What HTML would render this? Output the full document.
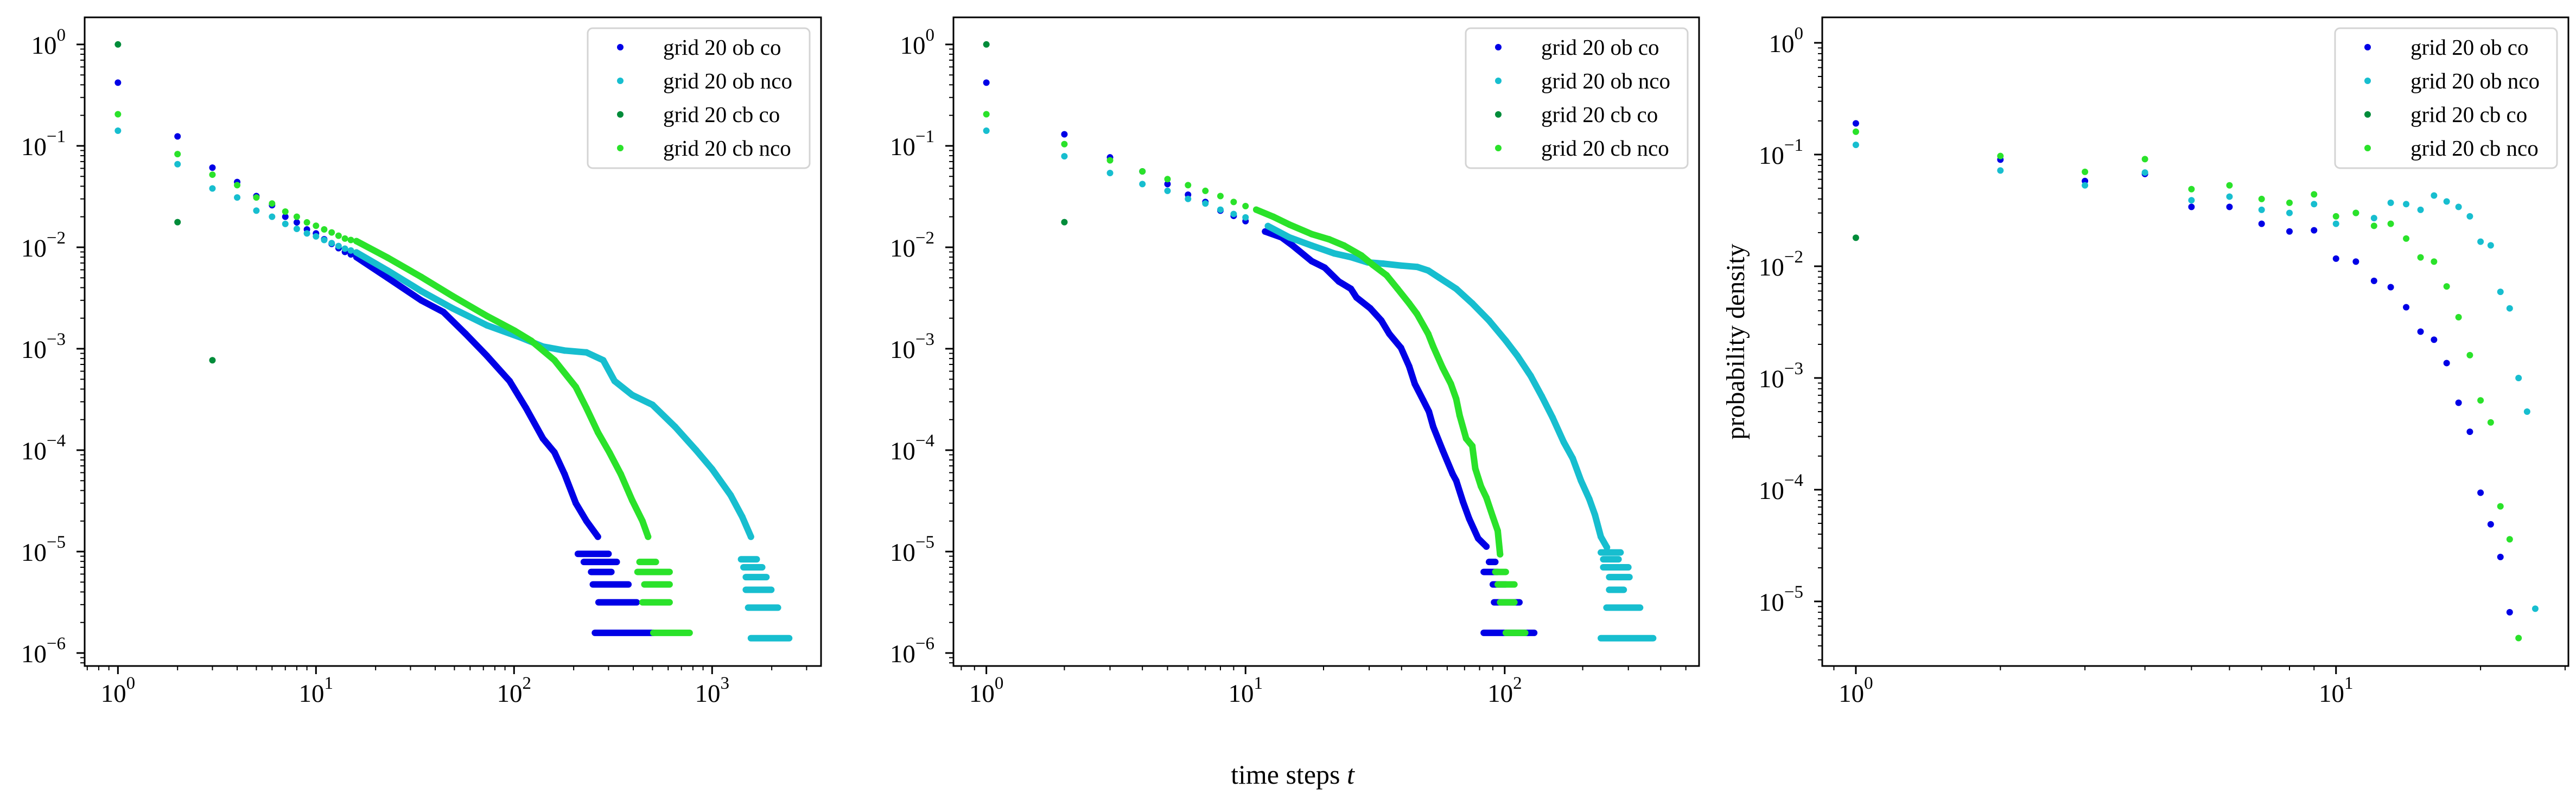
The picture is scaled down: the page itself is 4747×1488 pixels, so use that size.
<!DOCTYPE html>
<html><head><meta charset="utf-8">
<style>
html,body{margin:0;padding:0;background:#fff;}
svg{display:block;font-family:"Liberation Serif","DejaVu Serif",serif;}
</style></head>
<body>
<svg id="chart" width="4747" height="1488" viewBox="0 0 4747 1488" xmlns="http://www.w3.org/2000/svg">
<rect x="0" y="0" width="4747" height="1488" fill="#fff"/>
<text x="2382" y="1445" font-size="50" text-anchor="middle">time steps <tspan font-style="italic">t</tspan></text>
<text transform="translate(3214,630) rotate(-90)" font-size="48" text-anchor="middle">probability density</text>
</svg>
<script>
// ---------- data ----------
const seriesNames = ["grid 20 ob co","grid 20 ob nco","grid 20 cb co","grid 20 cb nco"];
const seriesColors = ["#0000e6","#17becf","#008c3a","#2ae22a"];

// Panel 1: discrete points [t, p]
const p1BlueDiscrete = [[1,0.42],[2,0.124],[3,0.061],[4,0.044],[5,0.032],[6,0.026],[7,0.020],[8,0.0176],[9,0.0150],[10,0.0137],[11,0.012],[12,0.0108],[13,0.0098],[14,0.0090],[15,0.0085]];
const p1BlueDense = [[16,0.0080],[23,0.0050],[34,0.0030],[44,0.0023],[57,0.0014],[73,0.00085],[95,0.00048],[115,0.00026],[140,0.00013],[160,0.000095],[180,0.000058],[205,0.00003],[232,0.00002],[265,0.000014]];
const p1BlueRows = [[1.58e-6,256,505],[3.16e-6,267,416],[4.74e-6,250,378],[6.3e-6,245,310],[7.9e-6,225,330],[9.5e-6,210,300]];
const p1CyanDiscrete = [[1,0.141],[2,0.066],[3,0.038],[4,0.031],[5,0.023],[6,0.020],[7,0.017],[8,0.0152],[9,0.0137],[10,0.0128],[11,0.0118],[12,0.011],[13,0.0103],[14,0.0097],[15,0.0093]];
const p1CyanDense = [[16,0.0089],[23,0.0059],[34,0.0037],[49,0.0025],[73,0.0017],[107,0.0013],[140,0.00105],[180,0.00096],[232,0.00092],[282,0.00077],[322,0.00048],[395,0.00035],[500,0.00028],[650,0.00017],[830,0.0001],[1000,0.000065],[1240,0.000036],[1420,0.000022],[1570,0.000014]];
const p1CyanRows = [[1.4e-6,1570,2450],[2.8e-6,1520,2150],[4.2e-6,1480,1990],[5.6e-6,1480,1880],[7.0e-6,1440,1790],[8.4e-6,1400,1680]];
const p1DarkDiscrete = [[1,1.0],[2,0.0177],[3,0.00077]];
const p1GreenDiscrete = [[1,0.205],[2,0.083],[3,0.052],[4,0.041],[5,0.031],[6,0.027],[7,0.0225],[8,0.020],[9,0.0176],[10,0.0163],[11,0.015],[12,0.014],[13,0.013],[14,0.0122],[15,0.0118]];
const p1GreenDense = [[16,0.0115],[23,0.0079],[34,0.0051],[49,0.0033],[73,0.0021],[101,0.0015],[122,0.0012],[160,0.00077],[205,0.00042],[232,0.00026],[265,0.00015],[303,0.000095],[346,0.000058],[395,0.000032],[445,0.00002],[475,0.000014]];
const p1GreenRows = [[1.58e-6,505,770],[3.16e-6,445,610],[4.74e-6,455,610],[6.3e-6,420,610],[7.9e-6,430,520]];

// Panel 2
const p2BlueDiscrete = [[1,0.42],[2,0.13],[3,0.077],[4,0.056],[5,0.042],[6,0.033],[7,0.028],[8,0.023],[9,0.0204],[10,0.0181]];
const p2BlueDense = [[11.9,0.0143],[13.8,0.0125],[15.2,0.0104],[18,0.0073],[20.2,0.0063],[22.9,0.0046],[25.5,0.0039],[26.8,0.0032],[30.3,0.0025],[33.4,0.0019],[35.9,0.0014],[39.8,0.00102],[42.8,0.00067],[45,0.00045],[48.5,0.00031],[51,0.00024],[53,0.00017],[57.6,0.0001],[63,0.000058],[65,0.00005],[69,0.000031],[73,0.000021],[79,0.0000135],[85,0.0000112]];
const p2BlueRows = [[1.58e-6,83,130],[3.16e-6,91,114],[4.74e-6,90,101],[6.3e-6,83,94],[7.9e-6,87,92]];
const p2CyanDiscrete = [[1,0.141],[2,0.079],[3,0.054],[4,0.042],[5,0.036],[6,0.030],[7,0.027],[8,0.0235],[9,0.0213],[10,0.0197]];
const p2CyanDense = [[12.2,0.0162],[14.8,0.0125],[18,0.0104],[22,0.0087],[25.5,0.0080],[29.6,0.0071],[34,0.0069],[39.8,0.0066],[46,0.0064],[50.7,0.0059],[56,0.005],[65,0.0039],[75,0.0028],[87,0.0019],[101,0.0012],[112,0.00085],[126,0.00054],[139,0.00034],[153,0.00021],[169,0.00012],[183,0.000083],[197,0.00005],[212,0.000033],[223,0.000023],[235,0.000014],[248,0.000011]];
const p2CyanRows = [[1.4e-6,235,374],[2.8e-6,247,333],[4.2e-6,253,288],[5.6e-6,253,303],[7.0e-6,240,300],[8.4e-6,240,275],[9.8e-6,235,280]];
const p2DarkDiscrete = [[1,1.0],[2,0.0177]];
const p2GreenDiscrete = [[1,0.205],[2,0.104],[3,0.072],[4,0.056],[5,0.047],[6,0.041],[7,0.036],[8,0.032],[9,0.028],[10,0.0255]];
const p2GreenDense = [[11,0.0235],[12.8,0.020],[14.8,0.0167],[18,0.0135],[21,0.012],[24,0.0104],[28,0.0083],[31,0.0067],[35,0.0053],[38.6,0.0039],[42.8,0.0028],[45.9,0.0022],[50.7,0.0014],[53,0.00105],[57.6,0.00065],[62,0.00045],[65,0.00032],[67,0.00022],[71,0.00013],[75,0.00011],[77,0.000066],[81,0.000044],[85,0.000034],[90,0.000022],[94,0.000016],[96,0.0000094]];
const p2GreenRows = [[1.58e-6,101,120],[3.16e-6,96,109],[4.74e-6,94,109],[6.3e-6,92,101]];

// Panel 3 (t = 1,2,3,...)
const p3BlueValues = [0.19,0.09,0.058,0.067,0.034,0.034,0.024,0.0205,0.021,0.0117,0.011,0.0074,0.0065,0.0043,0.0026,0.0022,0.00136,0.0006,0.00033,0.000094,0.000049,0.000025,0.000008];
const p3CyanValues = [0.122,0.072,0.053,0.069,0.039,0.042,0.032,0.030,0.036,0.024,0.030,0.027,0.037,0.036,0.032,0.043,0.038,0.034,0.028,0.0166,0.0154,0.0059,0.0042,0.001,0.0005,0.0000086];
const p3DarkValues = [0.018];
const p3GreenValues = [0.16,0.097,0.07,0.091,0.049,0.053,0.040,0.037,0.044,0.028,0.030,0.023,0.024,0.0177,0.012,0.011,0.0066,0.0035,0.0016,0.00063,0.0004,0.000071,0.000036,0.0000047];

const xTickExp1 = [0,1,2,3];
const xTickExp2 = [0,1,2];
const xTickExp3 = [0,1];
const yTickExp12 = [0,-1,-2,-3,-4,-5,-6];
const yTickExp3 = [0,-1,-2,-3,-4,-5];

// ---------- rendering ----------
const NS = "http://www.w3.org/2000/svg";
const svg = document.getElementById('chart');
function mk(tag, attrs, parent){
  const e = document.createElementNS(NS, tag);
  for (const k in attrs) e.setAttribute(k, attrs[k]);
  (parent||svg).appendChild(e);
  return e;
}
const R = 6;

function panel(cfg){
  const g = mk('g', {});
  
  
  const sx = t => cfg.x0 + (Math.log10(t) - cfg.lx0) / (cfg.lx1 - cfg.lx0) * (cfg.x1 - cfg.x0);
  const sy = p => cfg.y0 + (cfg.ly0 - Math.log10(p)) / (cfg.ly0 - cfg.ly1) * (cfg.y1 - cfg.y0);
  const inX = t => { const l = Math.log10(t); return l >= cfg.lx0 && l <= cfg.lx1; };
  const inY = p => { const l = Math.log10(p); return l <= cfg.ly0 && l >= cfg.ly1; };

  // series
  cfg.series.forEach((s, si) => {
    const sg = mk('g', {}, g);
    
    
    const col = seriesColors[si];
    (s.rows || []).forEach(r => {
      const ln = mk('line', {x1: sx(r[1]), x2: sx(r[2]), y1: sy(r[0]), y2: sy(r[0]), stroke: col, 'stroke-width': 2*R, 'stroke-linecap': 'round'}, sg);
      
      
    });
    if (s.dense && s.dense.length) {
      const pts = s.dense.map(d => sx(d[0]).toFixed(1) + ',' + sy(d[1]).toFixed(1)).join(' ');
      const pl = mk('polyline', {points: pts, fill: 'none', stroke: col, 'stroke-width': 2*R, 'stroke-linecap': 'round', 'stroke-linejoin': 'round'}, sg);
      
      
    }
    (s.pts || []).forEach(d => {
      if (!inX(d[0]) || !inY(d[1])) return;
      const c = mk('circle', {cx: sx(d[0]), cy: sy(d[1]), r: R, fill: col}, sg);
      
      
    });
  });

  // axes frame
  const fr = mk('rect', {x: cfg.x0, y: cfg.y0, width: cfg.x1 - cfg.x0, height: cfg.y1 - cfg.y0, fill: 'none', stroke: '#000', 'stroke-width': 3}, g);
  
  

  // x ticks
  for (let e = Math.floor(cfg.lx0); e <= Math.ceil(cfg.lx1); e++) {
    for (let m = 1; m <= 9; m++) {
      const l = e + Math.log10(m);
      if (l < cfg.lx0 || l > cfg.lx1) continue;
      const x = sx(Math.pow(10, l));
      const tk = mk('line', {x1: x, x2: x, y1: cfg.y1, y2: cfg.y1 + (m === 1 ? 15 : 8), stroke: '#000', 'stroke-width': m === 1 ? 3 : 2}, g);
      
      
    }
  }
  cfg.xticks.forEach(e => {
    const t = mk('text', {x: sx(Math.pow(10, e)), y: cfg.y1 + 66, 'font-size': 47, 'text-anchor': 'middle'}, g);
    
    
    t.innerHTML = '10<tspan font-size="33" dy="-24">' + (e < 0 ? '\u2212' + (-e) : e) + '</tspan>';
  });
  // y ticks
  for (let e = Math.floor(cfg.ly1); e <= Math.ceil(cfg.ly0); e++) {
    for (let m = 1; m <= 9; m++) {
      const l = e + Math.log10(m);
      if (l < cfg.ly1 || l > cfg.ly0) continue;
      const y = sy(Math.pow(10, l));
      const tk = mk('line', {x1: cfg.x0 - (m === 1 ? 15 : 8), x2: cfg.x0, y1: y, y2: y, stroke: '#000', 'stroke-width': m === 1 ? 3 : 2}, g);
      
      
    }
  }
  cfg.yticks.forEach(e => {
    const t = mk('text', {x: cfg.x0 - 35, y: sy(Math.pow(10, e)) + 17, 'font-size': 47, 'text-anchor': 'end'}, g);
    
    
    t.innerHTML = '10<tspan font-size="33" dy="-24">' + (e < 0 ? '\u2212' + (-e) : e) + '</tspan>';
  });

  // legend
  const lg = mk('g', {}, g);
  
  
  const bx = cfg.x1 - 430, by = 52;
  mk('rect', {x: bx, y: by, width: 409, height: 258, rx: 9, fill: '#fff', 'fill-opacity': 0.8, stroke: '#d4d4d4', 'stroke-width': 3}, lg);
  seriesNames.forEach((n, i) => {
    const ey = 87 + i * 62;
    const le = mk('g', {}, lg);
    
    
    mk('circle', {cx: bx + 60, cy: ey, r: R, fill: seriesColors[i]}, le);
    const tx = mk('text', {x: bx + 139, y: ey + 14, 'font-size': 41}, le);
    tx.textContent = n;
  });
}

const T = arr => arr.map((v, i) => [i + 1, v]);

panel({name: 'panel-1', x0: 156, x1: 1513, lx0: -0.168, lx1: 3.55, y0: 32, y1: 1228, ly0: 0.267, ly1: -6.128,
  xticks: xTickExp1, yticks: yTickExp12,
  series: [
    {pts: p1BlueDiscrete.concat(p1BlueDense), dense: p1BlueDense, rows: p1BlueRows},
    {pts: p1CyanDiscrete.concat(p1CyanDense), dense: p1CyanDense, rows: p1CyanRows},
    {pts: p1DarkDiscrete},
    {pts: p1GreenDiscrete.concat(p1GreenDense), dense: p1GreenDense, rows: p1GreenRows}
  ]});
panel({name: 'panel-2', x0: 1757, x1: 3131, lx0: -0.127, lx1: 2.75, y0: 32, y1: 1228, ly0: 0.267, ly1: -6.128,
  xticks: xTickExp2, yticks: yTickExp12,
  series: [
    {pts: p2BlueDiscrete.concat(p2BlueDense), dense: p2BlueDense, rows: p2BlueRows},
    {pts: p2CyanDiscrete.concat(p2CyanDense), dense: p2CyanDense, rows: p2CyanRows},
    {pts: p2DarkDiscrete},
    {pts: p2GreenDiscrete.concat(p2GreenDense), dense: p2GreenDense, rows: p2GreenRows}
  ]});
panel({name: 'panel-3', x0: 3358, x1: 4733, lx0: -0.07, lx1: 1.484, y0: 32, y1: 1228, ly0: 0.228, ly1: -5.578,
  xticks: xTickExp3, yticks: yTickExp3,
  series: [
    {pts: T(p3BlueValues)},
    {pts: T(p3CyanValues)},
    {pts: T(p3DarkValues)},
    {pts: T(p3GreenValues)}
  ]});
</script>
</body></html>
